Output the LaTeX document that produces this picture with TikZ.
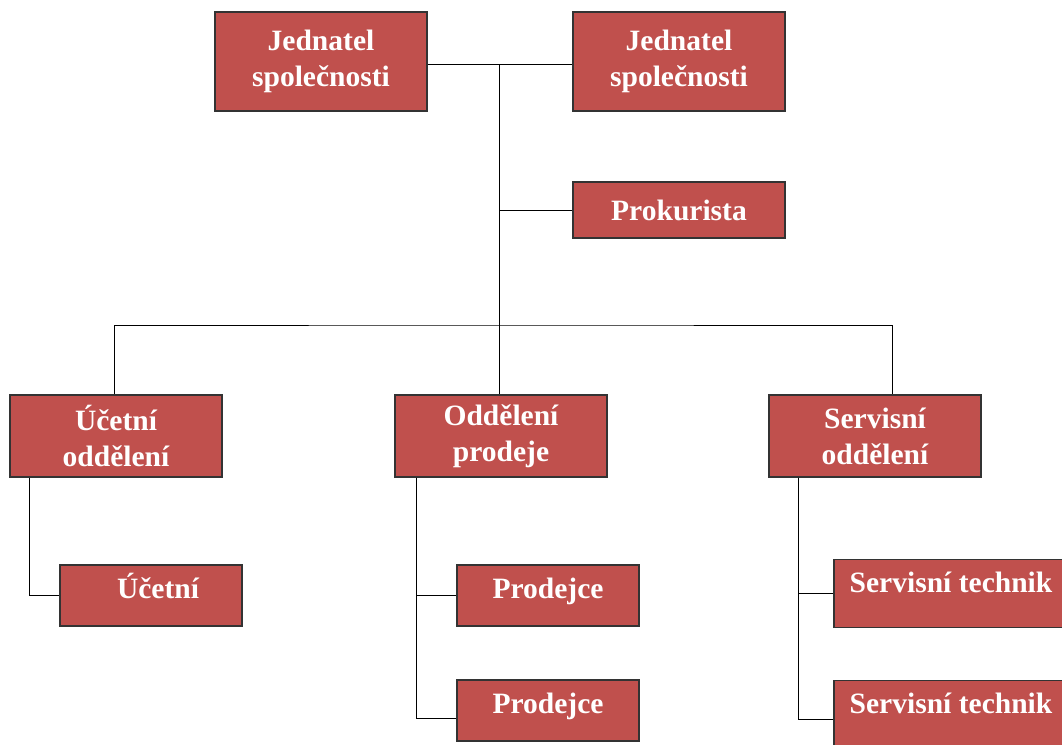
\documentclass[tikz,border=0pt]{standalone}
\usepackage{fontspec}
\setmainfont{Liberation Serif}
\usetikzlibrary{positioning}

\definecolor{boxred}{HTML}{C0504D}
\definecolor{boxline}{HTML}{333333}

\begin{document}
\begin{tikzpicture}[x=0.025cm,y=-0.025cm,
    unit/.style={rectangle,draw=boxline,line width=0.9pt,fill=boxred,text=white,
        font=\fontsize{21}{25.5}\selectfont\bfseries,align=center,inner sep=0pt},
    big/.style={unit,minimum width=5.3cm,minimum height=2.05cm},
    head/.style={unit,minimum width=5.3cm,minimum height=2.475cm},
    small/.style={unit,minimum width=4.55cm,minimum height=1.525cm,text height=0.55cm,text depth=0.4cm},
    tech/.style={unit,minimum width=5.85cm,text height=0.825cm,text depth=0.875cm,anchor=north},
    conn/.style={draw,black,line width=0.7pt}]
        \useasboundingbox (0,0) rectangle (1062,744);
        \clip (0,0) rectangle (1062,744);

        \node[head] (j1) at (321,61.5) {Jednatel\\společnosti};
        \node[head] (j2) at (679,61.5) {Jednatel\\společnosti};
        \node[unit,minimum width=5.3cm,minimum height=1.4cm] (prok) at (679,210) {Prokurista};

        \node[big] (ucod) at (116,436) {Účetní\\oddělení};
        \node[big] (prod) at (501,436) {Oddělení\\prodeje};
        \node[big] (serv) at (875,436) {Servisní\\oddělení};

        \node[small] (uc) at (151,595.5) {\hspace{0.35cm}Účetní};
        \node[small] (pr1) at (548,595.5) {Prodejce};
        \node[small] (pr2) at (548,710.5) {Prodejce};

        \node[tech] (st1) at (951,559) {Servisní technik};
        \node[tech,text depth=1.125cm] (st2) at (951,680) {Servisní technik};

        \coordinate (top) at (499,64);
        \coordinate (bus) at (499,325);

        \path[conn] (j1.east |- top) -- (j2.west |- top);
        \path[conn] (top) -- (prod.north -| top);
        \path[conn] (prok.west) -| (top);
        \path[conn] ([xshift=-0.05cm]ucod.north) |- (bus) -| ([xshift=0.425cm]serv.north);

        \path[conn] ([xshift=0.5cm]ucod.south west) |- (uc.west);
        \path[conn] ([xshift=0.55cm]prod.south west) |- (pr1.west);
        \path[conn] ([xshift=0.55cm]prod.south west) |- ([yshift=-0.19cm]pr2.west);
        \path[conn] ([xshift=0.75cm]serv.south west) |- (st1.west);
        \path[conn] ([xshift=0.75cm]serv.south west) |- (st2.west);
    \end{tikzpicture}
\end{document}
